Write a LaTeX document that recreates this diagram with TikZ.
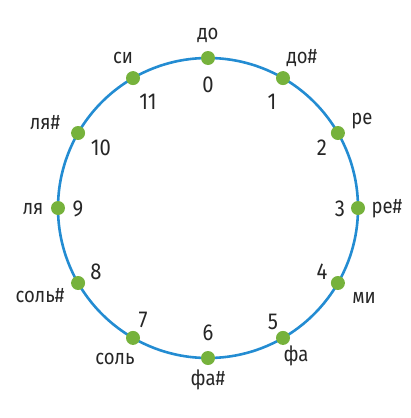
\documentclass[tikz,border=0pt]{standalone}
\usepackage{fontspec}
\setmainfont[FakeStretch=0.88]{Fira Sans}
\definecolor{ringblue}{RGB}{35,140,210}
\definecolor{dotgreen}{RGB}{118,178,60}
\begin{document}
\begin{tikzpicture}[x=1pt,y=-1pt,
  dot/.style={circle,fill=dotgreen,inner sep=0pt,minimum size=14pt},
  num/.style={font=\fontsize{23}{23}\selectfont,text=black!85,inner sep=0pt},
  lab/.style={font=\fontsize{21}{21}\selectfont,text=black!85,inner sep=0pt}]
\useasboundingbox (0,0) rectangle (411,418);
\draw[ringblue,line width=2.6pt] (208,208) circle (150);
\foreach \i in {0,...,11}{
  \node[dot] (d\i) at ({208+150*sin(30*\i)},{208-150*cos(30*\i)}) {};
}
\node[num] (n0) at (208,85) {0};
\node[num] (n1) at (272,102) {1};
\node[num] (n2) at (322,148) {2};
\node[num] (n3) at (340,209) {3};
\node[num] (n4) at (322,272) {4};
\node[num] (n5) at (273,322) {5};
\node[num] (n6) at (208,333) {6};
\node[num] (n7) at (143,320) {7};
\node[num] (n8) at (96,272) {8};
\node[num] (n9) at (78,209) {9};
\node[num] (n10) at (101,148) {10};
\node[num] (n11) at (148,102) {11};
\node[lab] (l0) at (208,35) {до};
\node[lab] (l1) at (302,58) {до\#};
\node[lab] (l2) at (362,121) {ре};
\node[lab] (l3) at (387,209) {ре\#};
\node[lab] (l4) at (364,298) {ми};
\node[lab] (l5) at (296,356) {фа};
\node[lab] (l6) at (208,380) {фа\#};
\node[lab] (l7) at (115,359) {соль};
\node[lab] (l8) at (40,296) {соль\#};
\node[lab] (l9) at (33,209) {ля};
\node[lab] (l10) at (45,123) {ля\#};
\node[lab] (l11) at (123,58) {си};
\end{tikzpicture}
\end{document}
